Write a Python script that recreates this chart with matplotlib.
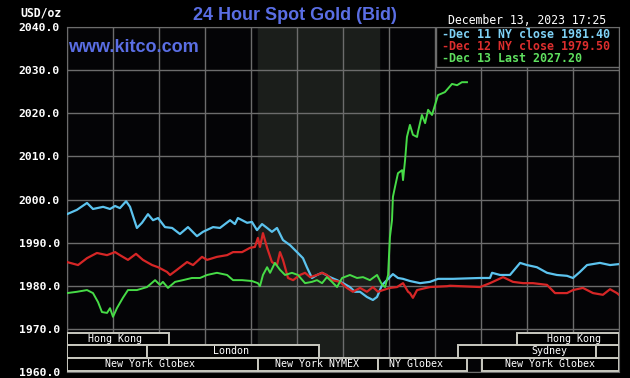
import matplotlib
matplotlib.use("Agg")
import matplotlib.pyplot as plt
from matplotlib.patches import Rectangle

# ---------------- data ----------------
blue_hours = [0, 0.43, 0.87, 1.13, 1.57, 1.87, 2.09, 2.30, 2.57, 2.74, 3.04, 3.26, 3.52, 3.74, 3.96,
              4.26, 4.57, 4.91, 5.26, 5.65, 5.91, 6.35, 6.65, 7.09, 7.30, 7.43, 7.83, 8.04, 8.26,
              8.48, 8.70, 8.91, 9.13, 9.39, 9.70, 10.0, 10.26, 10.43, 10.65, 10.87, 11.09, 11.43,
              11.74, 12.0, 12.30, 12.52, 12.74, 13.04, 13.30, 13.48, 13.70, 13.91, 14.17, 14.39,
              14.61, 14.91, 15.35, 15.78, 16.13, 16.78, 17.96, 18.39, 18.48, 18.83, 19.26, 19.70,
              20.0, 20.43, 20.87, 21.30, 21.74, 22.0, 22.30, 22.61, 23.17, 23.61, 23.96]
blue_prices = [1996.6, 1997.6, 1999.2, 1997.8, 1998.3, 1997.8, 1998.5, 1998.0, 1999.6, 1998.3, 1993.4,
               1994.6, 1996.6, 1995.2, 1995.7, 1993.6, 1993.4, 1992.0, 1993.6, 1991.5, 1992.5, 1993.6,
               1993.4, 1995.2, 1994.3, 1995.7, 1994.6, 1994.8, 1992.9, 1994.3, 1993.4, 1992.5, 1993.4,
               1990.6, 1989.4, 1987.8, 1986.4, 1984.3, 1981.8, 1982.5, 1983.0, 1982.0, 1981.3, 1980.6,
               1979.7, 1978.6, 1978.6, 1977.4, 1976.7, 1977.4, 1980.2, 1981.3, 1982.7, 1981.8, 1981.6,
               1981.1, 1980.6, 1980.9, 1981.6, 1981.6, 1981.8, 1981.8, 1983.0, 1982.5, 1982.5, 1985.3,
               1984.8, 1984.3, 1983.0, 1982.5, 1982.3, 1981.8, 1983.2, 1984.8, 1985.3, 1984.8, 1985.0]

red_hours = [0, 0.48, 0.87, 1.30, 1.74, 2.09, 2.30, 2.65, 3.0, 3.30, 3.70, 3.96, 4.35, 4.48, 4.78,
             5.22, 5.48, 5.87, 6.09, 6.52, 6.96, 7.22, 7.61, 7.96, 8.17, 8.30, 8.39, 8.52, 8.70,
             8.91, 9.13, 9.26, 9.39, 9.61, 9.83, 10.13, 10.35, 10.57, 10.87, 11.09, 11.30, 11.52,
             11.87, 12.17, 12.43, 12.74, 13.04, 13.30, 13.52, 13.74, 14.04, 14.35, 14.61, 14.83,
             14.91, 15.04, 15.22, 15.78, 16.52, 16.65, 17.96, 18.39, 18.96, 19.39, 19.83, 20.26,
             20.87, 21.22, 21.74, 22.0, 22.43, 22.87, 23.30, 23.61, 23.91, 24.0]
red_prices = [1985.5, 1984.8, 1986.4, 1987.6, 1987.1, 1987.8, 1987.1, 1986.0, 1987.4, 1986.0, 1984.8,
              1984.3, 1983.2, 1982.5, 1983.7, 1985.5, 1984.8, 1986.7, 1986.0, 1986.7, 1987.1, 1987.8,
              1987.8, 1988.8, 1989.0, 1991.1, 1989.0, 1992.2, 1988.8, 1985.5, 1984.8, 1987.8, 1986.0,
              1981.8, 1981.3, 1982.5, 1983.0, 1982.0, 1982.5, 1983.0, 1982.5, 1981.3, 1980.9, 1979.5,
              1978.6, 1979.5, 1978.6, 1979.7, 1978.6, 1979.0, 1979.5, 1979.7, 1980.6, 1978.6, 1978.3,
              1977.2, 1979.0, 1979.7, 1979.9, 1980.0, 1979.7, 1980.6, 1982.0, 1980.9, 1980.6, 1980.6,
              1980.2, 1978.3, 1978.3, 1979.0, 1979.5, 1978.3, 1977.9, 1979.2, 1978.3, 1977.9]

green_hours = [0, 0.43, 0.87, 1.13, 1.35, 1.52, 1.74, 1.87, 2.0, 2.17, 2.43, 2.65, 3.04, 3.48, 3.83,
               4.04, 4.17, 4.39, 4.70, 5.04, 5.43, 5.78, 6.09, 6.52, 6.96, 7.22, 7.61, 8.04, 8.30,
               8.39, 8.52, 8.70, 8.83, 9.04, 9.26, 9.48, 9.78, 10.04, 10.35, 10.65, 10.87, 11.09,
               11.30, 11.52, 11.74, 11.96, 12.30, 12.61, 12.87, 13.17, 13.48, 13.70, 13.83, 13.96,
               14.04, 14.13, 14.17, 14.26, 14.39, 14.57, 14.61, 14.70, 14.78, 14.91, 15.04, 15.22,
               15.26, 15.43, 15.57, 15.70, 15.87, 16.0, 16.13, 16.43, 16.74, 16.96, 17.17, 17.39]
green_prices = [1978.3, 1978.6, 1979.0, 1978.3, 1976.2, 1973.9, 1973.7, 1974.8, 1972.8, 1974.8, 1977.2,
                1979.0, 1979.0, 1979.7, 1981.3, 1980.2, 1980.9, 1979.5, 1980.9, 1981.3, 1981.8, 1981.8,
                1982.5, 1983.0, 1982.5, 1981.3, 1981.3, 1981.1, 1980.6, 1979.9, 1982.5, 1984.3, 1983.0,
                1985.3, 1983.7, 1982.5, 1983.0, 1982.5, 1980.6, 1980.9, 1981.3, 1980.6, 1982.0, 1980.9,
                1979.7, 1981.8, 1982.5, 1981.8, 1982.0, 1981.3, 1982.5, 1980.2, 1979.7, 1982.5, 1991.3,
                1995.2, 2000.6, 2002.9, 2006.1, 2006.8, 2004.5, 2009.2, 2014.5, 2017.3, 2015.0, 2014.5,
                2015.7, 2019.6, 2017.7, 2020.8, 2019.6, 2021.9, 2024.2, 2024.9, 2026.8, 2026.5, 2027.2,
                2027.2]

legend_labels = ["-Dec 11 NY close 1981.40", "-Dec 12 NY close 1979.50", "-Dec 13 Last 2027.20"]
y_ticks = [1960, 1970, 1980, 1990, 2000, 2010, 2020, 2030, 2040]
nymex_start, nymex_end = 8.30, 13.56

# sessions: name, start hour, end hour, row (0 = top), label centre hour
session_names = ["Hong Kong", "", "London", "New York Globex", "New York NYMEX", "NY Globex",
                 "New York Globex", "Sydney", "", "Hong Kong"]
session_start = [0, 0, 3.48, 0, 8.30, 13.52, 18.04, 17.0, 23.0, 19.57]
session_end = [4.43, 3.48, 10.96, 8.30, 13.52, 17.39, 24.0, 23.0, 24.0, 24.0]
session_row = [0, 1, 1, 2, 2, 2, 2, 1, 1, 0]
session_label_x = [2.09, 0, 7.13, 3.61, 10.87, 15.17, 21.0, 20.96, 0, 22.04]
row_bounds = [(1966.3, 1969.1), (1963.3, 1966.3), (1960.3, 1963.3)]

# ---------------- figure ----------------
fig = plt.figure(figsize=(6.3, 3.78), dpi=100, facecolor="black")
ax = fig.add_axes([67 / 630, 1 - 372 / 378, 552 / 630, 345 / 378])
ax.set_facecolor("#040406")
ax.set_xlim(0, 24)
ax.set_ylim(1960, 2040)

ax.axvspan(nymex_start, nymex_end, color="#1b1e1b", zorder=0)

grid_c = "#6c6c6c"
for h in range(0, 25, 2):
    ax.axvline(h, color=grid_c, lw=1.0, zorder=1)
for yv in y_ticks:
    ax.axhline(yv, color=grid_c, lw=1.0, zorder=1)
for s in ax.spines.values():
    s.set_color(grid_c)

ax.set_xticks([])
ax.set_yticks(y_ticks)
ax.set_yticklabels([f"{v:.1f}" for v in y_ticks], family="DejaVu Sans Mono",
                   fontweight="bold", fontsize=8.2, color="white")
ax.tick_params(axis="y", length=0, pad=5)

ax.plot(blue_hours, blue_prices, color="#5cc3ee", lw=1.6, zorder=3)
ax.plot(red_hours, red_prices, color="#d62626", lw=1.6, zorder=3)
ax.plot(green_hours, green_prices, color="#47dc47", lw=1.4, zorder=4)

# session boxes
for name, s, e, r, lx in zip(session_names, session_start, session_end, session_row, session_label_x):
    lo, hi = row_bounds[r]
    ax.add_patch(Rectangle((s, lo), e - s, hi - lo, facecolor="black", edgecolor="#c9c9c0",
                           lw=1.4, zorder=5))
    if name:
        ax.text(lx, (lo + hi) / 2, name, ha="center", va="center", color="white",
                family="DejaVu Sans Mono", fontsize=7.2, zorder=6)

# legend box
ax.add_patch(Rectangle((0.668, 0.884), 0.332, 0.116, transform=ax.transAxes,
                       facecolor="black", edgecolor=grid_c, lw=1.0, zorder=6))
leg_colors = ["#7fd2f6", "#dd2e2e", "#5fe05f"]
for i, (lab, c) in enumerate(zip(legend_labels, leg_colors)):
    fig.text(442 / 630, 1 - (34 + 12.5 * i) / 378, lab, color=c, family="DejaVu Sans Mono",
             fontweight="bold", fontsize=8.4, va="center", ha="left", zorder=7)

# titles and texts
blue_t = "#5a6ee4"
fig.text(295 / 630, 1 - 16 / 378, "24 Hour Spot Gold (Bid)", color=blue_t, fontsize=13,
         fontweight="bold", family="Liberation Sans", ha="center", va="center")
fig.text(68 / 630, 1 - 48 / 378, "www.kitco.com", color=blue_t, fontsize=13,
         fontweight="bold", family="Liberation Sans", ha="left", va="center")
fig.text(448 / 630, 1 - 20 / 378, "December 13, 2023 17:25", color="white", fontsize=8.3,
         family="DejaVu Sans Mono", ha="left", va="center")
fig.text(62 / 630, 1 - 13 / 378, "USD/oz", color="white", fontsize=8.3, fontweight="bold",
         family="DejaVu Sans Mono", ha="right", va="center")

fig.savefig("out.png", dpi=100, facecolor="black")
